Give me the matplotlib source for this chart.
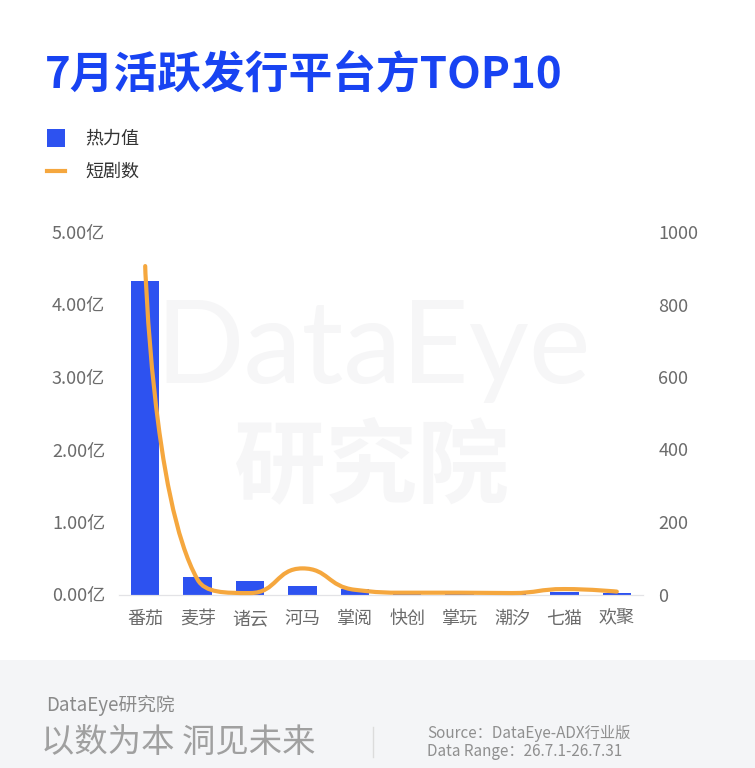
import numpy as np
import matplotlib
matplotlib.use("Agg")
import matplotlib.pyplot as plt
from matplotlib.path import Path
from matplotlib.patches import PathPatch, Rectangle
from matplotlib.lines import Line2D

plt.rcParams['font.family'] = ['Noto Sans CJK SC', 'DejaVu Sans']

# data
platforms = ['番茄', '麦芽', '诸云', '河马', '掌阅', '快创', '掌玩', '潮汐', '七猫', '欢聚']
heat = [4.32, 0.24, 0.18, 0.12, 0.08, 0.045, 0.01, 0.03, 0.028, 0.02]   # 亿
dramas = [906, 41, 4, 72, 13, 5, 5, 4, 15, 8]
left_ticks = [0, 1, 2, 3, 4, 5]
right_ticks = [0, 200, 400, 600, 800, 1000]

BLUE = '#2d52f0'
ORANGE = '#f5a73e'
W, H = 755, 768


def fx(px):
    return px / W


def fy(py):
    return 1 - py / H


def clamp(v, a, b):
    return min(max(v, min(a, b)), max(a, b))


def smooth_path(px, py, s=0.5):
    # bezier smoothing the way echarts does it (control points kept between neighbours)
    n = len(px)
    verts = [(px[0], py[0])]
    codes = [Path.MOVETO]
    cx0, cy0 = px[0], py[0]
    for i in range(1, n):
        x, y = px[i], py[i]
        x0, y0 = px[i - 1], py[i - 1]
        if i == n - 1:
            cx1, cy1 = x, y
            ncx, ncy = x, y
        else:
            x1, y1 = px[i + 1], py[i + 1]
            vx, vy = x1 - x0, y1 - y0
            lp = np.hypot(x - x0, y - y0)
            ln = np.hypot(x1 - x, y1 - y)
            r = ln / (ln + lp)
            ncx = clamp(x + vx * s * r, x1, x)
            ncy = clamp(y + vy * s * r, y1, y)
            vx, vy = ncx - x, ncy - y
            cx1 = clamp(x - vx * lp / ln, x0, x)
            cy1 = clamp(y - vy * lp / ln, y0, y)
            vx, vy = x - cx1, y - cy1
            ncx = x + vx * ln / lp
            ncy = y + vy * ln / lp
        verts += [(cx0, cy0), (cx1, cy1), (x, y)]
        codes += [Path.CURVE4] * 3
        cx0, cy0 = ncx, ncy
    return np.array(verts), codes


fig = plt.figure(figsize=(7.55, 7.68), dpi=100)
fig.patch.set_facecolor('white')

# footer band
fig.patches.append(Rectangle((0, 0), 1, 108 / H, transform=fig.transFigure,
                             facecolor='#f4f5f7', edgecolor='none', zorder=0))

ax = fig.add_axes([fx(119), fy(594.5), fx(643) - fx(119), (362.5) / H])
ax.set_facecolor('none')
ax2 = ax.twinx()

# watermark
fig.text(fx(373), fy(350), 'DataEye', fontsize=84, family=['Lato', 'DejaVu Sans'],
         color='#f6f6f7', ha='center', va='center', zorder=0)
fig.text(fx(371), fy(468), '研究院', fontsize=66, weight='bold',
         color='#f6f6f7', ha='center', va='center', zorder=0)

x = np.arange(len(platforms))
ax.bar(x, heat, width=0.54, color=BLUE, zorder=2)
ax.set_xlim(-0.5, len(platforms) - 0.5)
ax.set_ylim(0, 5)
ax.set_yticks(left_ticks)
ax.set_yticklabels([f'{v:.2f}亿' for v in left_ticks])
ax.set_xticks(x)
ax.set_xticklabels(platforms)

ax2.set_ylim(0, 1000)
ax2.set_yticks(right_ticks)
ax2.set_yticklabels([str(v) for v in right_ticks])

for a in (ax, ax2):
    for side in ('top', 'left', 'right'):
        a.spines[side].set_visible(False)
    a.spines['bottom'].set_color('#e3e3e6')
    a.tick_params(length=0, labelsize=13, labelcolor='#6b6b6b')
ax.tick_params(axis='y', pad=10)
ax.tick_params(axis='x', pad=11)
ax2.tick_params(axis='y', pad=11)

# smooth line on right axis
pts = ax2.transData.transform(np.column_stack([x, dramas]))
verts, codes = smooth_path(pts[:, 0], pts[:, 1])
verts = ax2.transData.inverted().transform(verts)
ax2.add_patch(PathPatch(Path(verts, codes), facecolor='none', edgecolor=ORANGE,
                        lw=3, capstyle='round', zorder=3, clip_on=False))

# title
fig.text(fx(45), fy(74), '7月活跃发行平台方TOP10', fontsize=31.5, weight='heavy',
         color='#1843f2', va='center', ha='left')

# legend
fig.patches.append(Rectangle((fx(47), fy(147)), 18 / W, 18 / H, transform=fig.transFigure,
                             facecolor=BLUE, edgecolor='none'))
fig.lines.append(Line2D([fx(47), fx(65)], [fy(171), fy(171)], transform=fig.transFigure,
                        color=ORANGE, lw=3))
fig.text(fx(85), fy(138), '热力值', fontsize=13, color='#333333', va='center')
fig.text(fx(85), fy(172), '短剧数', fontsize=13, color='#333333', va='center')

# footer text
fig.text(fx(46), fy(705), 'DataEye研究院', fontsize=13.5, color='#8a8a8a', va='center')
fig.text(fx(41), fy(742), '以数为本 洞见未来', fontsize=24, weight='light',
         color='#a0a0a0', va='center')
fig.lines.append(Line2D([fx(373), fx(373)], [fy(727), fy(757)], transform=fig.transFigure,
                        color='#dcdcdc', lw=1))
fig.text(fx(427), fy(733), 'Source：DataEye-ADX行业版', fontsize=11, color='#8f8f8f', va='center')
fig.text(fx(427), fy(751), 'Data Range：26.7.1-26.7.31', fontsize=11, color='#8f8f8f', va='center')

fig.savefig('out.png', dpi=100)
